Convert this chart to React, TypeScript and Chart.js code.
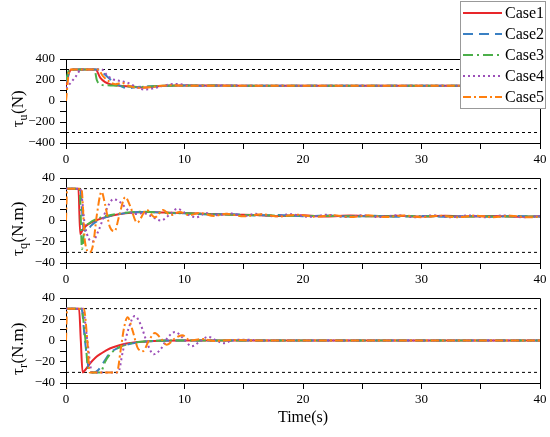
import React, { useEffect, useRef } from 'react';
import { Chart, registerables } from 'chart.js';

Chart.register(...registerables);

type P = [number, number];

const caseNames = ['Case1', 'Case2', 'Case3', 'Case4', 'Case5'];
const caseColors = ['#e8262a', '#3a80c3', '#4caf4a', '#9c4fb8', '#ff7f0e'];
const caseDashes: number[][] = [[], [10, 6], [10, 4, 2, 4], [2, 3], [8, 3, 2, 3]];
const xTickLabels = [0, 10, 20, 30, 40];

// tau_u (N)
const tauU1: P[] = [[0, 150], [0.3, 280], [0.5, 300], [2.5, 300], [2.9, 220], [3.3, 180], [3.8, 158], [4.5, 146], [5.5, 138], [6.5, 128], [7.5, 138], [8.5, 146], [10, 148], [15, 146], [20, 145], [25, 145], [30, 145], [35, 145], [40, 145]];
const tauU2: P[] = [[0, 180], [0.4, 300], [2.8, 300], [3.3, 250], [3.8, 200], [4.3, 160], [4.8, 132], [5.2, 122], [5.8, 130], [6.5, 136], [7.5, 142], [9, 147], [12, 146], [20, 145], [30, 145], [40, 145]];
const tauU3: P[] = [[0, 200], [0.3, 300], [2.4, 300], [2.6, 200], [2.8, 165], [3.3, 150], [4, 148], [5, 140], [6, 133], [7, 138], [8, 145], [10, 147], [20, 145], [30, 145], [40, 145]];
const tauU4: P[] = [[0, 120], [0.3, 160], [0.8, 230], [1.3, 300], [3.0, 300], [3.5, 240], [4.0, 205], [4.6, 190], [5.3, 170], [6.0, 130], [6.6, 110], [7.3, 118], [8.2, 145], [9.2, 162], [10.2, 152], [11.5, 143], [13, 148], [16, 145], [20, 146], [30, 145], [40, 145]];
const tauU5: P[] = [[0, 0], [0.3, 300], [2.7, 300], [3.1, 240], [3.6, 190], [4.2, 160], [4.7, 172], [5.3, 145], [6, 125], [7, 130], [8, 145], [9, 150], [10, 146], [20, 145], [30, 145], [40, 145]];

// tau_q (N.m)
const tauQ1: P[] = [[0, 30], [1.05, 30], [1.2, -13], [1.4, -9], [1.7, -5], [2.2, -1.5], [3, 2], [4, 5], [5, 6.8], [6, 7.8], [7, 8], [8, 7.6], [9, 7.2], [10, 7], [12, 6.2], [14, 5.5], [16, 5.2], [18, 4.3], [20, 4.9], [22, 3.8], [24, 4.6], [26, 3.9], [28, 4.5], [30, 3.7], [32, 4.4], [34, 3.8], [36, 4.3], [38, 3.6], [40, 4.0]];
const tauQ2: P[] = [[0, 30], [1.2, 30], [1.5, -9], [1.8, -10], [2.1, -5], [2.7, 0], [3.5, 3.5], [4.5, 6], [5.5, 7.5], [6.5, 8], [8, 7.5], [9, 7], [10, 6.8], [12, 5.6], [14, 6.0], [16, 4.8], [18, 5.1], [20, 4.0], [22, 4.7], [24, 3.7], [26, 4.4], [28, 3.6], [30, 4.3], [32, 3.5], [34, 4.2], [36, 3.6], [38, 4.2], [40, 3.7]];
const tauQ3: P[] = [[0, 30], [1.15, 30], [1.35, -27], [1.55, -8], [1.9, -3], [2.5, 1], [3.5, 4.5], [4.5, 6.5], [5.5, 7.8], [6.5, 8.2], [8, 7.6], [9, 7], [10, 6.8], [12, 6.0], [14, 5.4], [16, 5.0], [18, 4.6], [20, 4.3], [22, 4.2], [24, 4.0], [26, 4.0], [28, 3.9], [30, 3.9], [32, 3.9], [34, 3.8], [36, 3.8], [38, 3.8], [40, 3.8]];
const tauQ4: P[] = [[0, 30], [1.2, 30], [1.6, -5], [2.2, -20], [2.8, -8], [3.4, 10], [4.0, 20], [4.6, 17], [5.2, 10], [5.8, 6], [6.5, 7], [7.2, 4], [8.0, 0], [8.7, 5], [9.4, 11], [10.2, 6], [11.0, 3], [11.8, 7], [12.6, 5], [14, 6.5], [15, 4.2], [16, 6.3], [17.5, 4.0], [19, 5.8], [20.5, 3.5], [22, 5.4], [23.5, 3.3], [25, 5.0], [26.5, 3.2], [28, 5.0], [29.5, 3.0], [31, 4.9], [32.5, 3.1], [34, 4.8], [35.5, 3.0], [37, 4.8], [38.5, 3.0], [40, 4.2]];
const tauQ5: P[] = [[0, 0], [0.1, 30], [1.3, 30], [1.6, -20], [2.0, -30], [2.3, -22], [2.6, 5], [3.0, 27], [3.3, 15], [3.7, -6], [4.1, -10], [4.5, 5], [5.0, 22], [5.4, 14], [6.0, -2], [6.8, 10], [7.5, 3], [8.2, 10], [8.8, 5], [9.6, 8], [10.4, 5], [11.3, 7], [12.5, 4.2], [13.5, 6.3], [15, 4.0], [16.5, 5.8], [18, 3.8], [19.5, 5.4], [21, 3.5], [22.5, 5.0], [24, 3.2], [25.5, 4.9], [27, 3.2], [28.5, 4.7], [30, 3.1], [31.5, 4.6], [33, 3.0], [34.5, 4.6], [36, 3.1], [37.5, 4.5], [39, 3.0], [40, 3.6]];

// tau_r (N.m)
const tauR1: P[] = [[0, 30], [1.1, 30], [1.25, 0], [1.4, -30], [1.6, -28], [2, -22], [2.5, -16], [3, -12], [3.7, -7.5], [4.5, -4.5], [5.1, -2.8], [6, -1.5], [7, -0.6], [8, -0.2], [10, 0], [20, 0], [30, 0], [40, 0]];
const tauR2: P[] = [[0, 30], [1.3, 30], [1.6, 0], [1.9, -25], [2.3, -30], [2.7, -28], [3.2, -20], [3.7, -12], [4.4, -7], [5.1, -4], [6, -2], [7, -0.8], [8, -0.2], [10, 0], [20, 0], [30, 0], [40, 0]];
const tauR3: P[] = [[0, 30], [1.3, 30], [1.6, 5], [1.9, -28], [2.2, -30], [2.9, -30], [3.3, -20], [3.8, -12], [4.5, -6.5], [5.2, -3.5], [6, -1.6], [7, -0.6], [9, 0], [20, 0], [30, 0], [40, 0]];
const tauR4: P[] = [[0, 30], [1.4, 30], [1.8, 0], [2.2, -30], [4.4, -30], [4.8, -10], [5.3, 12], [5.8, 23], [6.3, 15], [6.9, -4], [7.4, -13], [8.0, -8], [8.6, 3], [9.2, 8], [9.9, 2], [10.6, -5.5], [11.3, -1], [12.0, 3.5], [12.6, 0.5], [13.3, -2.5], [14, 0], [15, 0.8], [16.5, 0], [20, 0], [30, 0], [40, 0]];
const tauR5: P[] = [[0, 0], [0.1, 30], [1.5, 30], [1.8, 0], [2.0, -30], [4.3, -30], [4.6, -10], [4.9, 12], [5.2, 22], [5.6, 10], [6.1, -8], [6.5, -10], [7.0, 0], [7.5, 7], [8.0, 2], [8.5, -4], [9.2, 2], [9.8, 5], [10.5, 0], [11.5, 1.5], [12.5, -0.5], [14, 0.5], [16, 0], [20, 0], [30, 0], [40, 0]];

const FONT = "'Liberation Serif', 'Times New Roman', serif";
const W = 550;
const H = 437;

interface PanelDef {
  top: number;
  bottom: number;
  min: number;
  max: number;
  step: number;
  major: number;
  limit: number;
  sym: string;
  unit: string;
  titleY: number;
  series: P[][];
  legend: boolean;
  xTitle: boolean;
}

const panels: PanelDef[] = [
  { top: 59, bottom: 143, min: -400, max: 400, step: 100, major: 200, limit: 300, sym: 'u', unit: '(N)', titleY: 109, series: [tauU1, tauU2, tauU3, tauU4, tauU5], legend: true, xTitle: false },
  { top: 178, bottom: 263, min: -40, max: 40, step: 10, major: 20, limit: 30, sym: 'q', unit: '(N.m)', titleY: 229, series: [tauQ1, tauQ2, tauQ3, tauQ4, tauQ5], legend: false, xTitle: false },
  { top: 298, bottom: 383, min: -40, max: 40, step: 10, major: 20, limit: 30, sym: 'r', unit: '(N.m)', titleY: 349, series: [tauR1, tauR2, tauR3, tauR4, tauR5], legend: false, xTitle: true },
];

const X_AXIS_H = 30;

const decorPlugin = {
  id: 'decor',
  afterDatasetsDraw(chart: any) {
    const { ctx, chartArea: a } = chart;
    ctx.save();
    ctx.strokeStyle = '#000';
    ctx.lineWidth = 1;
    ctx.setLineDash([]);
    ctx.beginPath();
    ctx.moveTo(a.left, a.top + 0.5);
    ctx.lineTo(a.right + 0.5, a.top + 0.5);
    ctx.lineTo(a.right + 0.5, a.bottom);
    ctx.stroke();
    ctx.restore();
  },
  afterDraw(chart: any, _args: any, opts: any) {
    const { ctx, chartArea: a } = chart;
    ctx.save();
    const big = `17px ${FONT}`;
    const small = `12px ${FONT}`;
    ctx.fillStyle = '#000';
    ctx.textBaseline = 'alphabetic';
    ctx.textAlign = 'left';
    ctx.translate(23, opts.titleY);
    ctx.rotate(-Math.PI / 2);
    ctx.font = big;
    const w1 = ctx.measureText('τ').width;
    const w3 = ctx.measureText(opts.unit).width;
    ctx.font = small;
    const w2 = ctx.measureText(opts.sym).width;
    let x = -(w1 + w2 + w3) / 2;
    ctx.font = big;
    ctx.fillText('τ', x, 0);
    x += w1;
    ctx.font = small;
    ctx.fillText(opts.sym, x, 4);
    x += w2 + 0.5;
    ctx.font = big;
    ctx.fillText(opts.unit, x, 0);
    ctx.restore();

    if (opts.xTitle) {
      ctx.save();
      ctx.font = `16px ${FONT}`;
      ctx.fillStyle = '#000';
      ctx.textAlign = 'center';
      ctx.textBaseline = 'middle';
      ctx.fillText('Time(s)', (a.left + a.right) / 2, 418);
      ctx.restore();
    }

    if (opts.legend) {
      ctx.save();
      const bx = 460.5, by = 1.5, bw = 85, bh = 107;
      ctx.fillStyle = '#fff';
      ctx.fillRect(bx, by, bw, bh);
      ctx.strokeStyle = '#999';
      ctx.lineWidth = 1;
      ctx.strokeRect(bx, by, bw, bh);
      ctx.font = `16px ${FONT}`;
      ctx.textBaseline = 'middle';
      ctx.textAlign = 'left';
      for (let i = 0; i < caseNames.length; i++) {
        const y = 13 + i * 21;
        ctx.strokeStyle = caseColors[i];
        ctx.lineWidth = 2;
        ctx.setLineDash(caseDashes[i]);
        ctx.beginPath();
        ctx.moveTo(463, y);
        ctx.lineTo(502, y);
        ctx.stroke();
        ctx.setLineDash([]);
        ctx.fillStyle = '#000';
        ctx.fillText(caseNames[i], 505, y + 1);
      }
      ctx.restore();
    }
  },
};

function fmt(v: number): string {
  return v < 0 ? '\u2212' + Math.abs(v) : String(v);
}

function Panel({ def, z }: { def: PanelDef; z: number }) {
  const ref = useRef<HTMLCanvasElement | null>(null);
  useEffect(() => {
    if (!ref.current) return;
    const datasets: any[] = def.series.map((s, i) => ({
      label: caseNames[i],
      data: s.map(([x, y]) => ({ x, y })),
      borderColor: caseColors[i],
      backgroundColor: caseColors[i],
      borderWidth: 2,
      borderDash: caseDashes[i],
      pointRadius: 0,
      cubicInterpolationMode: 'monotone',
      fill: false,
      order: 4 - i,
    }));
    [def.limit, -def.limit].forEach((lv) => {
      datasets.push({
        label: 'limit',
        data: [{ x: 0, y: lv }, { x: 40, y: lv }],
        borderColor: '#000',
        borderWidth: 1,
        borderDash: [3, 3],
        pointRadius: 0,
        fill: false,
        order: 10,
      });
    });
    const chart = new Chart(ref.current, {
      type: 'line',
      data: { datasets },
      options: {
        animation: false,
        responsive: false,
        events: [],
        layout: { padding: { top: def.top, bottom: H - def.bottom - X_AXIS_H, left: 0, right: 10 } },
        plugins: {
          legend: { display: false },
          tooltip: { enabled: false },
          decor: { titleY: def.titleY, sym: def.sym, unit: def.unit, legend: def.legend, xTitle: def.xTitle },
        } as any,
        scales: {
          x: {
            type: 'linear',
            min: 0,
            max: 40,
            afterFit: (s: any) => { s.height = X_AXIS_H; },
            ticks: {
              stepSize: 5,
              autoSkip: false,
              maxRotation: 0,
              padding: 3,
              color: '#000',
              font: { family: FONT, size: 13 },
              callback: (v: any) => (xTickLabels.includes(Number(v)) ? String(v) : ''),
            },
            grid: { display: true, drawOnChartArea: false, drawTicks: true, tickLength: 6, color: '#000' },
            border: { display: true, color: '#000', width: 1 },
          },
          y: {
            type: 'linear',
            min: def.min,
            max: def.max,
            afterFit: (s: any) => { s.width = 66; },
            ticks: {
              stepSize: def.step,
              autoSkip: false,
              padding: 5,
              color: '#000',
              font: { family: FONT, size: 13 },
              callback: (v: any) => (Number(v) % def.major === 0 ? fmt(Number(v)) : ''),
            },
            grid: { display: true, drawOnChartArea: false, drawTicks: true, tickLength: 6, color: '#000' },
            border: { display: true, color: '#000', width: 1 },
          },
        },
      } as any,
      plugins: [decorPlugin as any],
    });
    return () => chart.destroy();
  }, [def]);
  return (
    <canvas
      ref={ref}
      width={W}
      height={H}
      style={{ position: 'absolute', left: 0, top: 0, width: W, height: H, zIndex: z }}
    />
  );
}

export default function App() {
  return (
    <div style={{ position: 'fixed', left: 0, top: 0, width: W, height: H, background: '#fff' }}>
      <Panel def={panels[2]} z={1} />
      <Panel def={panels[1]} z={2} />
      <Panel def={panels[0]} z={3} />
    </div>
  );
}
